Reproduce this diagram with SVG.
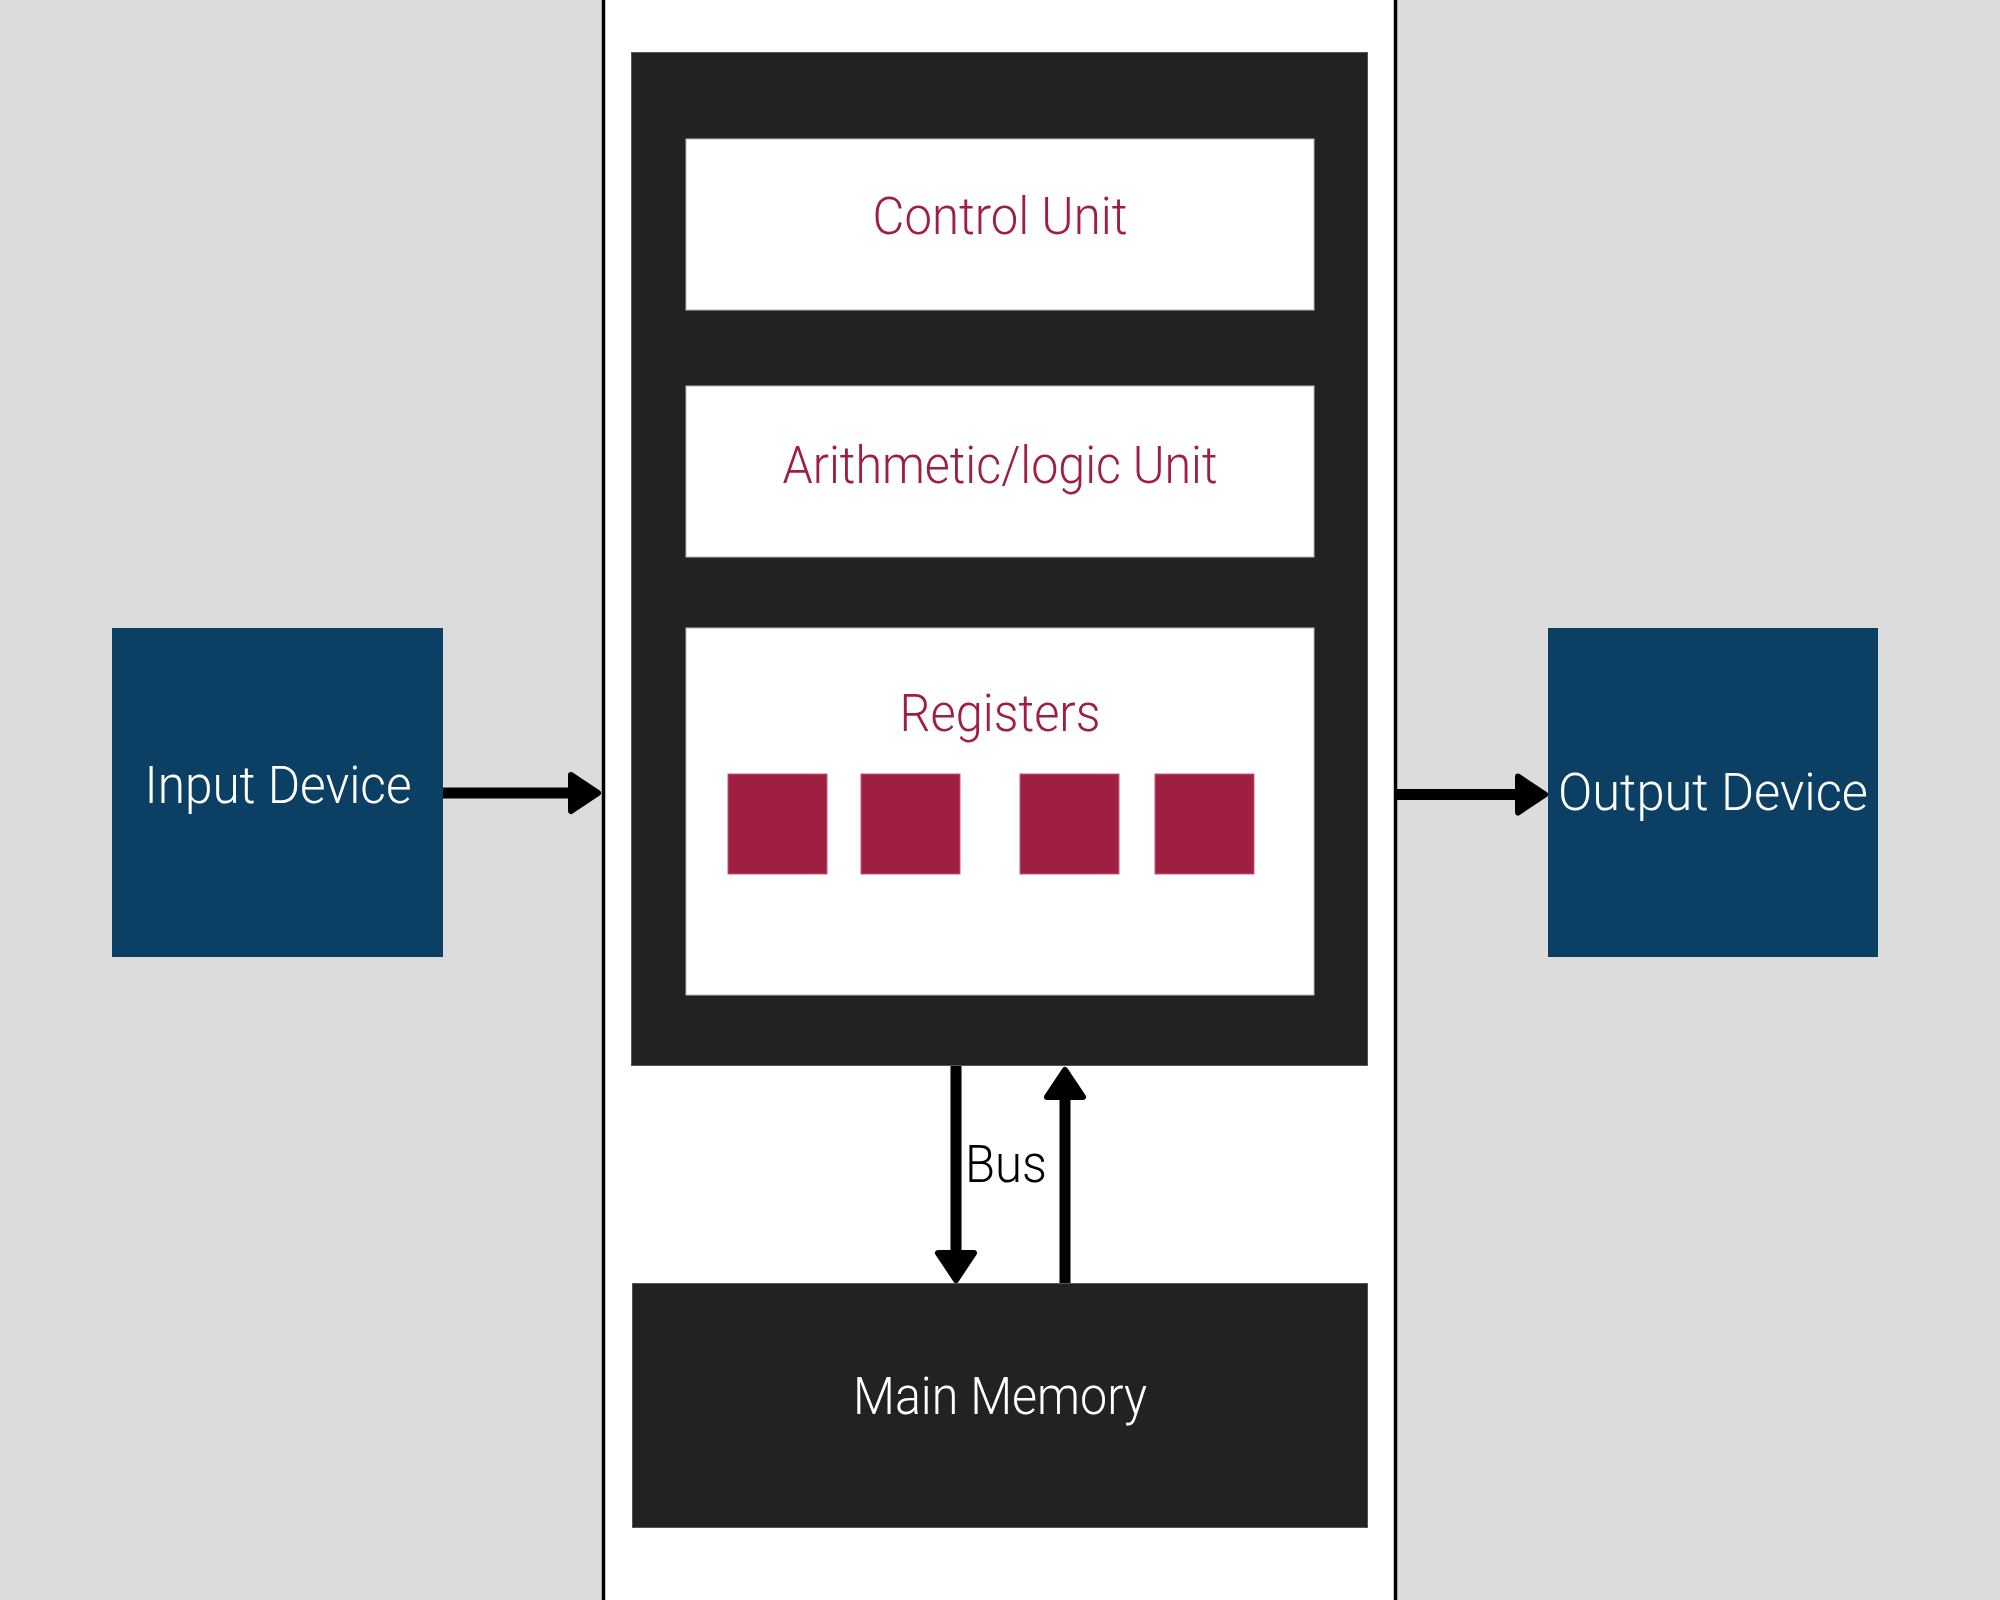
<svg xmlns="http://www.w3.org/2000/svg" width="2000" height="1600" viewBox="0 0 2000 1600">
<style>
  .lbl { font-family: Roboto, "Liberation Sans", Arial, sans-serif; font-weight: 300; font-size: 51px; text-anchor: middle; }
  .red { fill: #9e1f42; }
  .wht { fill: #ffffff; }
  .blk { fill: #000000; }
  .dark { fill: #222222; stroke: #555555; stroke-width: 1; }
  .panel { fill: #ffffff; stroke: #bbbbbb; stroke-width: 1; }
  .dev { fill: #0b3f63; }
  .reg { fill: #9e1f42; stroke: #c65a78; stroke-width: 1; }
  .conn { stroke: #000000; stroke-width: 11; fill: none; marker-end: url(#ah); }
</style>
<defs>
  <marker id="ah" markerUnits="userSpaceOnUse" viewBox="-5 -25 40 50" markerWidth="40" markerHeight="50" refX="9" refY="0" orient="auto">
    <path d="M0,-18 L27,0 L0,18 Z" fill="#000" stroke="#000" stroke-width="6" stroke-linejoin="round"/>
  </marker>
</defs>
<g id="background">
  <rect x="0" y="0" width="2000" height="1600" fill="#dcdcdc"/>
  <rect x="603.5" y="0" width="792" height="1600" fill="#ffffff"/>
  <line x1="603.5" y1="0" x2="603.5" y2="1600" stroke="#000" stroke-width="3.5"/>
  <line x1="1395.5" y1="0" x2="1395.5" y2="1600" stroke="#000" stroke-width="3.5"/>
</g>
<g id="cpu">
  <rect class="dark" x="631.5" y="52.5" width="736" height="1013"/>
</g>
<g id="control-unit">
  <rect class="panel" x="686" y="139" width="628" height="171"/>
  <text class="lbl red" x="1000" y="234" textLength="255" lengthAdjust="spacingAndGlyphs">Control Unit</text>
</g>
<g id="alu">
  <rect class="panel" x="686" y="386" width="628" height="171"/>
  <text class="lbl red" x="1000" y="483" textLength="435" lengthAdjust="spacingAndGlyphs">Arithmetic/logic Unit</text>
</g>
<g id="registers">
  <rect class="panel" x="686" y="628" width="628" height="367"/>
  <text class="lbl red" x="1000" y="731" textLength="201" lengthAdjust="spacingAndGlyphs">Registers</text>
  <rect class="reg" x="728" y="774" width="99" height="100"/>
  <rect class="reg" x="861" y="774" width="99" height="100"/>
  <rect class="reg" x="1020" y="774" width="99" height="100"/>
  <rect class="reg" x="1155" y="774" width="99" height="100"/>
</g>
<g id="main-memory">
  <rect class="dark" x="632.5" y="1283.5" width="735" height="244"/>
  <text class="lbl wht" x="1000" y="1414" textLength="294" lengthAdjust="spacingAndGlyphs">Main Memory</text>
</g>
<g id="input-device">
  <rect class="dev" x="112" y="628" width="331" height="329"/>
  <text class="lbl wht" x="278" y="803" textLength="267" lengthAdjust="spacingAndGlyphs">Input Device</text>
</g>
<g id="output-device">
  <rect class="dev" x="1548" y="628" width="330" height="329"/>
  <text class="lbl wht" x="1713" y="810" textLength="310" lengthAdjust="spacingAndGlyphs">Output Device</text>
</g>
<g id="connectors">
  <line class="conn" x1="443" y1="793" x2="580" y2="793"/>
  <line class="conn" x1="1397" y1="794.5" x2="1527" y2="794.5"/>
  <line class="conn" x1="956" y1="1066" x2="956" y2="1262"/>
  <line class="conn" x1="1065" y1="1283" x2="1065" y2="1088"/>
  <text class="lbl blk" x="1006" y="1182" textLength="82" lengthAdjust="spacingAndGlyphs">Bus</text>
</g>
</svg>
